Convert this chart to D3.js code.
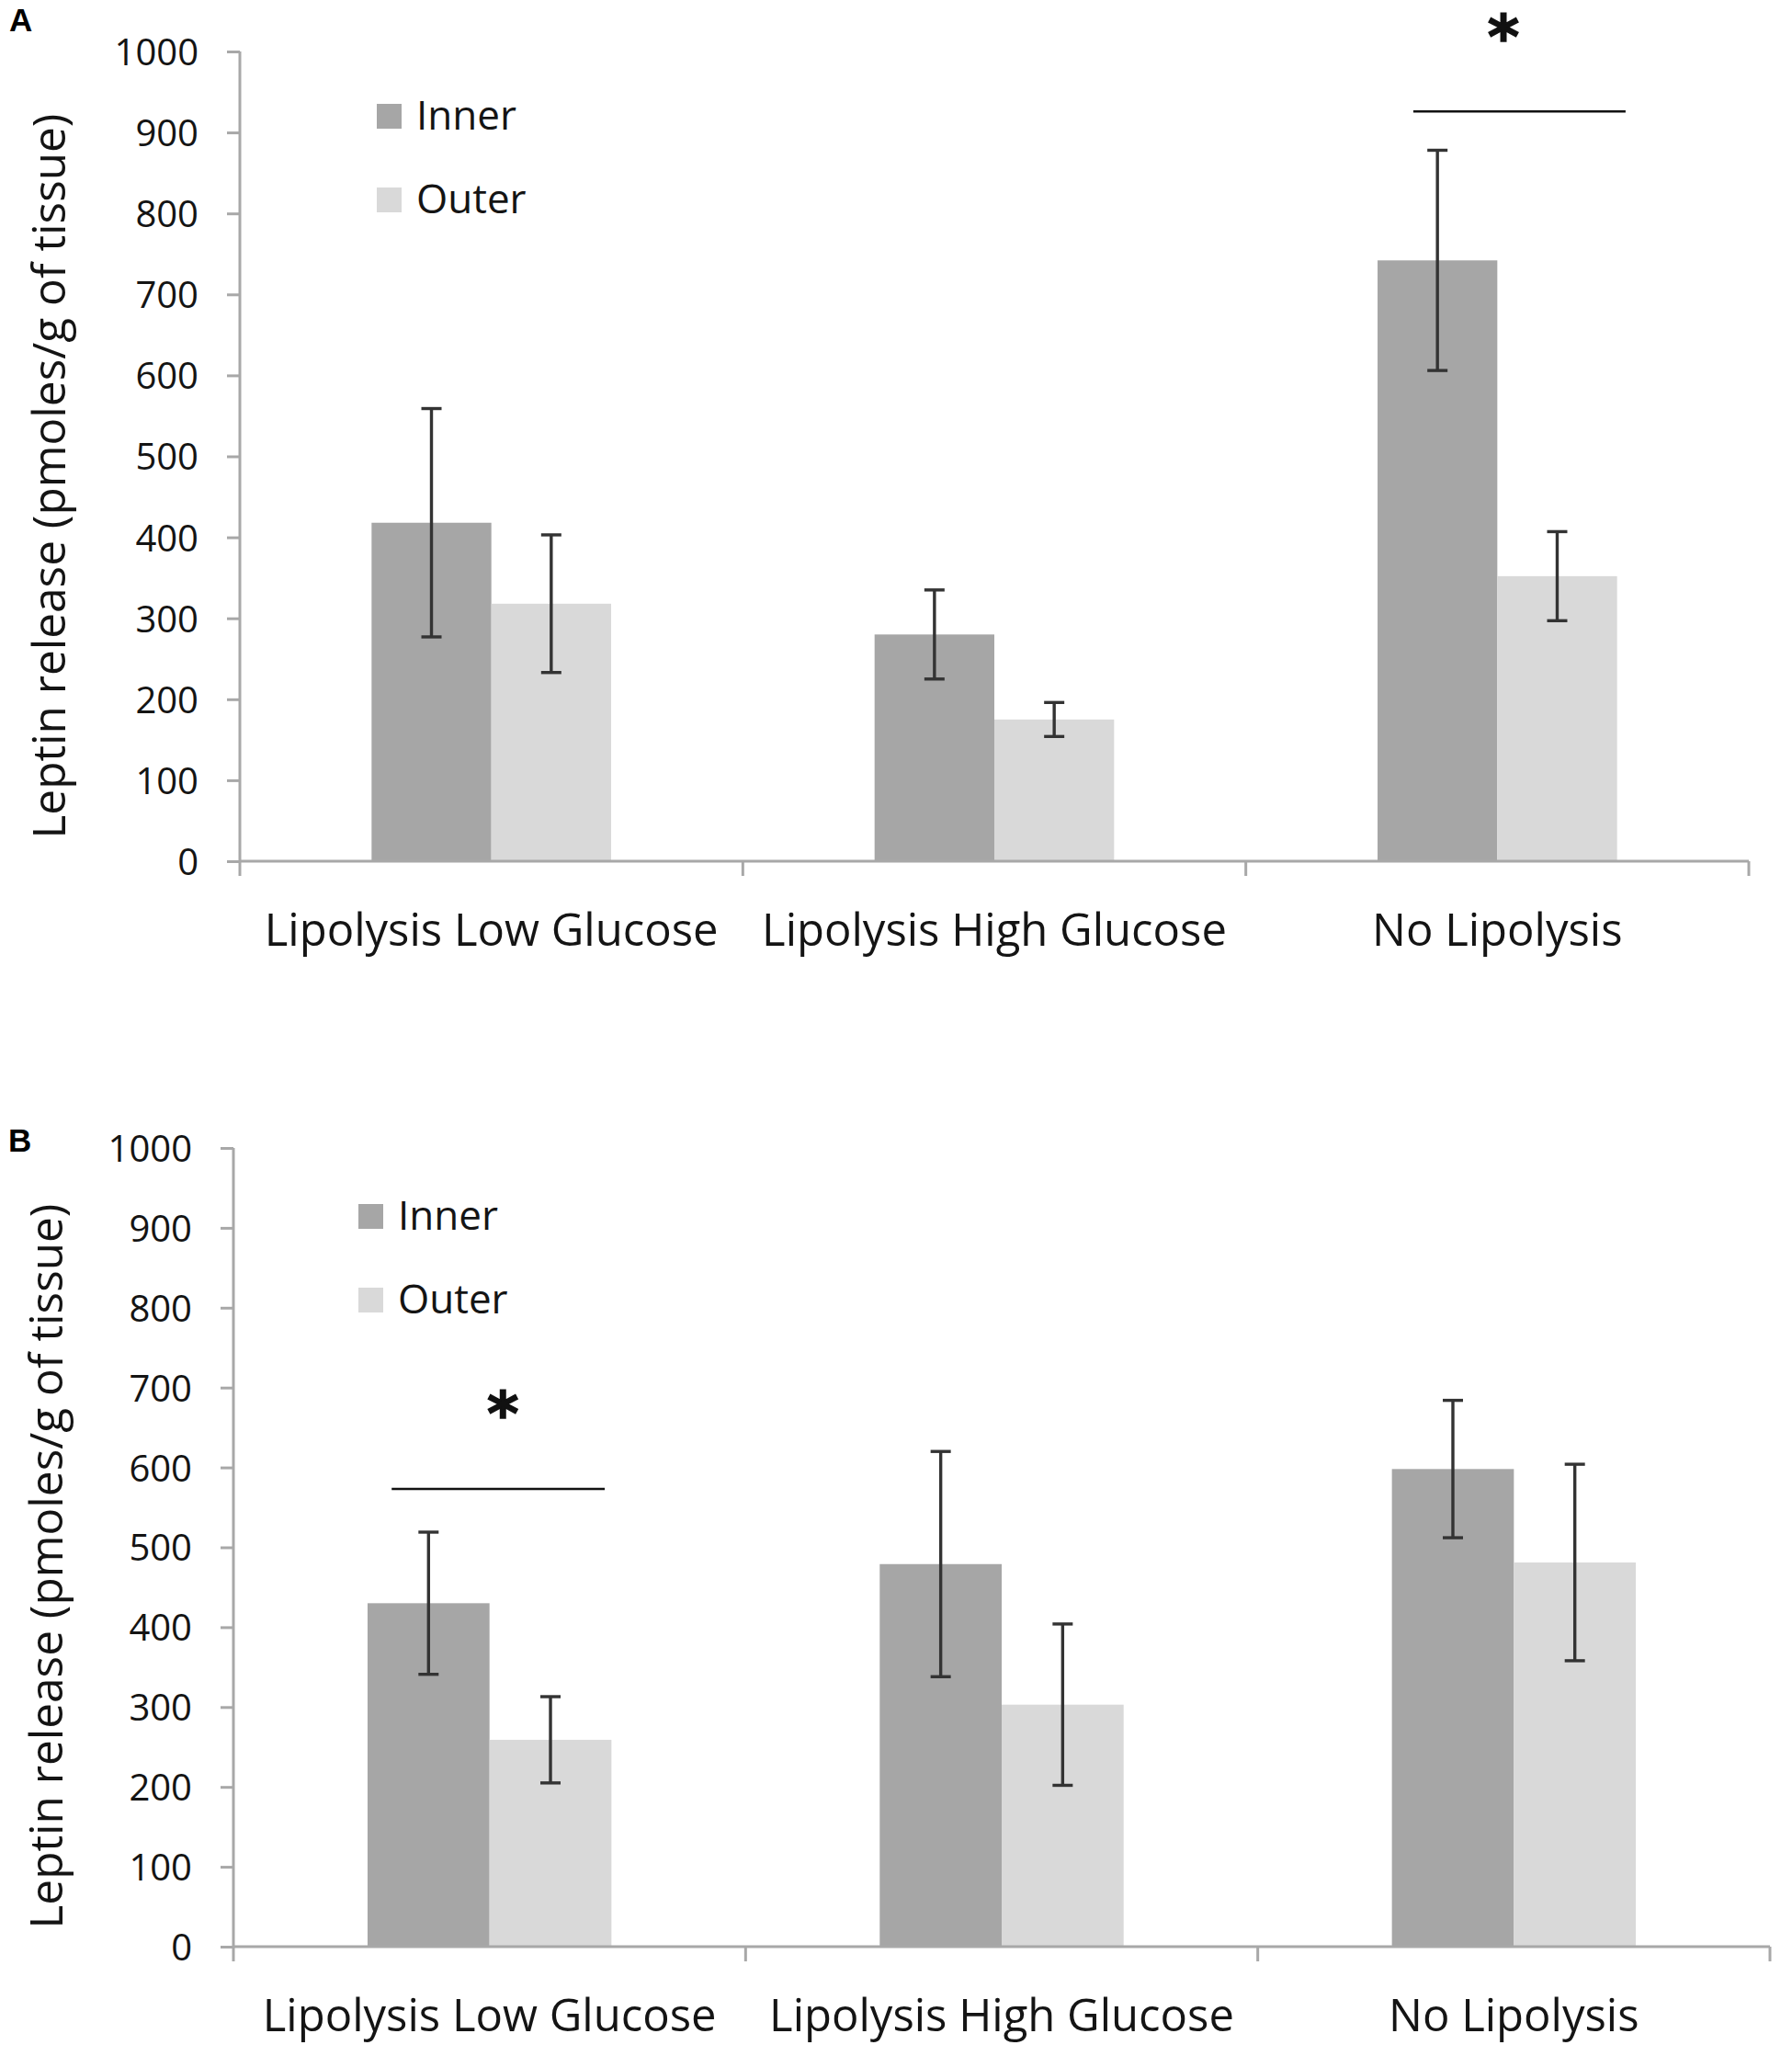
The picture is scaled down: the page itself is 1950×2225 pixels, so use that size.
<!DOCTYPE html>
<html>
<head>
<meta charset="utf-8">
<script src="https://cdn.jsdelivr.net/npm/d3@7"></script>
<style>
  html, body { margin: 0; padding: 0; background: #fff; }
  svg { display: block; }
</style>
</head>
<body>
<svg id="chart" width="1950" height="2225"></svg>
<script>
// ---------- DATA ----------
const categories = ["Lipolysis Low Glucose", "Lipolysis High Glucose", "No Lipolysis"];
const seriesNames = ["Inner", "Outer"];
const yTicks = [0, 100, 200, 300, 400, 500, 600, 700, 800, 900, 1000];

// Panel A
const innerA = [418, 280, 742];
const innerErrA = [141, 55, 136];
const outerA = [318, 175, 352];
const outerErrA = [85, 21, 55];

// Panel B
const innerB = [430, 479, 598];
const innerErrB = [89, 141, 86];
const outerB = [259, 303, 481];
const outerErrB = [54, 101, 123];

const seriesColors = ["#a6a6a6", "#d9d9d9"];
const yTitle = "Leptin release (pmoles/g of tissue)";

// ---------- DRAW ----------
const svg = d3.select("#chart");
const FONT = "'Open Sans', Lato, sans-serif";

function drawPanel(o) {
  const g = svg.append("g");
  const y = d3.scaleLinear().domain([0, 1000]).range([o.y0, o.y1]);
  const x = d3.scaleBand().domain(categories).range([o.left, o.right]).padding(0);
  const xs = d3.scaleBand().domain(seriesNames).range([0, x.bandwidth()])
    .paddingInner(0).paddingOuter(1.1);

  // Bars
  const vals = [o.inner, o.outer];
  const errs = [o.innerErr, o.outerErr];
  seriesNames.forEach((s, si) => {
    g.selectAll(null).data(categories).enter().append("rect")
      .attr("x", (c) => x(c) + xs(s))
      .attr("width", xs.bandwidth())
      .attr("y", (c, i) => y(vals[si][i]))
      .attr("height", (c, i) => y(0) - y(vals[si][i]))
      .attr("fill", seriesColors[si]);
  });

  // Axes
  const axisColor = "#a8a8a8";
  const yAxis = g.append("g").attr("transform", `translate(${o.left},0)`)
    .call(d3.axisLeft(y).tickValues(yTicks).tickSize(14).tickPadding(31).tickFormat(d3.format("d")));
  yAxis.select(".domain").attr("stroke", axisColor).attr("stroke-width", 3)
    .attr("d", `M0,${y(1000)}V${y(0)}`);
  yAxis.selectAll(".tick line").attr("stroke", axisColor).attr("stroke-width", 3);
  yAxis.selectAll(".tick text").attr("font-family", FONT).attr("font-size", 40)
    .attr("fill", "#141414").attr("dy", "0.36em");

  const xAxisG = g.append("g").attr("transform", `translate(0,${o.y0})`);
  xAxisG.append("line").attr("x1", o.left).attr("x2", o.right)
    .attr("stroke", axisColor).attr("stroke-width", 3);
  const boundaries = categories.map(c => x(c)).concat([x.range()[1]]);
  xAxisG.selectAll(".xtick").data(boundaries).enter().append("line")
    .attr("x1", d => d).attr("x2", d => d).attr("y1", 0).attr("y2", 16)
    .attr("stroke", axisColor).attr("stroke-width", 3);
  xAxisG.selectAll(".xlab").data(categories).enter().append("text")
    .attr("x", c => x(c) + x.bandwidth() / 2)
    .attr("y", o.labelBaseline - o.y0)
    .attr("text-anchor", "middle")
    .attr("font-family", FONT).attr("font-size", 49).attr("fill", "#141414")
    .text(c => c);

  // Error bars
  seriesNames.forEach((s, si) => {
    categories.forEach((c, i) => {
      const cx = x(c) + xs(s) + xs.bandwidth() / 2;
      const top = y(vals[si][i] + errs[si][i]);
      const bot = y(vals[si][i] - errs[si][i]);
      const eg = g.append("g").attr("stroke", "#333").attr("stroke-width", 3.4);
      eg.append("line").attr("x1", cx).attr("x2", cx).attr("y1", top).attr("y2", bot);
      eg.append("line").attr("x1", cx - 11).attr("x2", cx + 11).attr("y1", top).attr("y2", top);
      eg.append("line").attr("x1", cx - 11).attr("x2", cx + 11).attr("y1", bot).attr("y2", bot);
    });
  });

  // Significance line & star
  const sc = o.sig.cat;
  const bw = x.bandwidth();
  const sx1 = x(sc) + o.sig.f1 * bw;
  const sx2 = x(sc) + o.sig.f2 * bw;
  g.append("line").attr("x1", sx1).attr("x2", sx2)
    .attr("y1", y(o.sig.level)).attr("y2", y(o.sig.level))
    .attr("stroke", "#111").attr("stroke-width", 2.5);
  g.append("text").attr("x", x(sc) + o.sig.fs * bw).attr("y", o.sig.starY)
    .attr("text-anchor", "middle").attr("font-family", "'DejaVu Sans', sans-serif")
    .attr("font-weight", "bold").attr("font-size", 66).attr("fill", "#111")
    .attr("stroke", "#111").attr("stroke-width", 1.5).text("*");

  // Legend
  seriesNames.forEach((s, si) => {
    const ly = o.legend.y + si * o.legend.gap;
    g.append("rect").attr("x", o.legend.x).attr("y", ly - 27).attr("width", 27).attr("height", 27)
      .attr("fill", seriesColors[si]);
    g.append("text").attr("x", o.legend.x + 43).attr("y", ly + 1)
      .attr("font-family", FONT).attr("font-size", 44).attr("fill", "#141414").text(s);
  });

  // Y title
  g.append("text")
    .attr("transform", `translate(${o.titleX},${o.titleY}) rotate(-90)`)
    .attr("text-anchor", "middle")
    .attr("font-family", FONT).attr("font-size", 49.5).attr("fill", "#141414")
    .text(yTitle);

  // Panel letter
  g.append("text").attr("x", o.letterX).attr("y", o.letterY)
    .attr("font-family", "'Liberation Sans', Arial, sans-serif").attr("font-weight", "bold")
    .attr("font-size", 35).attr("fill", "#000").text(o.letter);
}

drawPanel({
  letter: "A", letterX: 10, letterY: 34,
  left: 261, right: 1903, y0: 937, y1: 56, labelBaseline: 1029,
  inner: innerA, innerErr: innerErrA, outer: outerA, outerErr: outerErrA,
  sig: { cat: "No Lipolysis", level: 926, starY: 63, f1: 0.333, f2: 0.755, fs: 0.512 },
  legend: { x: 410, y: 140, gap: 91 },
  titleX: 71, titleY: 518
});

drawPanel({
  letter: "B", letterX: 9, letterY: 1253,
  left: 254, right: 1926, y0: 2118, y1: 1249, labelBaseline: 2210,
  inner: innerB, innerErr: innerErrB, outer: outerB, outerErr: outerErrB,
  sig: { cat: "Lipolysis Low Glucose", level: 573, starY: 1561, f1: 0.309, f2: 0.725, fs: 0.526 },
  legend: { x: 390, y: 1337, gap: 91 },
  titleX: 68, titleY: 1704
});
</script>
</body>
</html>
